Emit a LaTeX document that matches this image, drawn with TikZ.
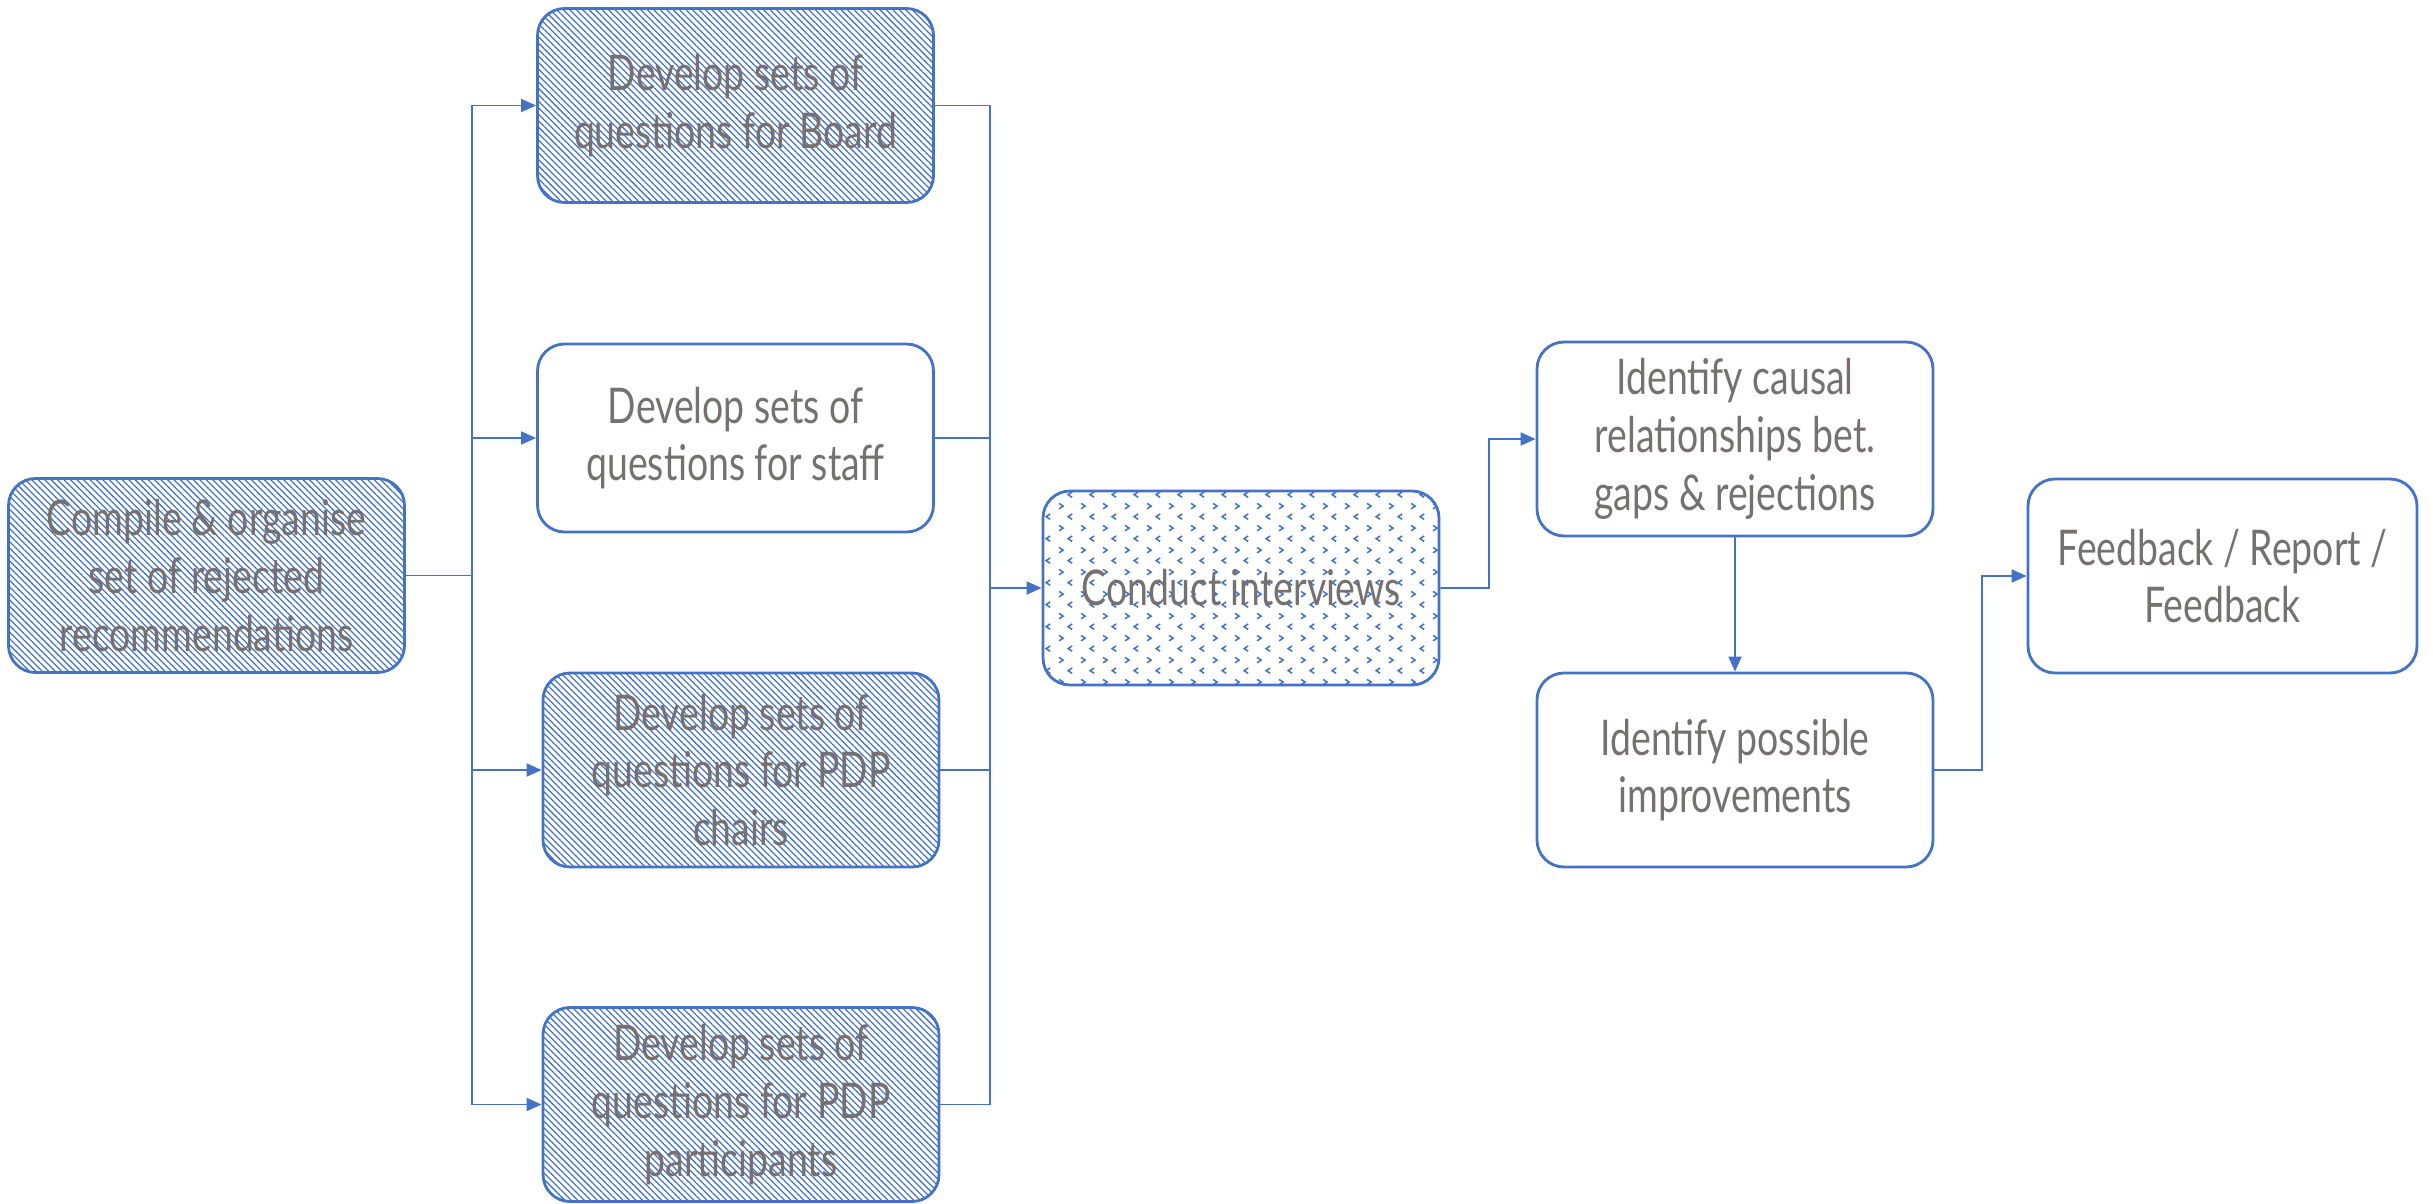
\documentclass[tikz,border=0pt]{standalone}
\usepackage{fontspec}
\setmainfont{Lato}[FakeStretch=0.76]
\usepackage{tikz}
\usetikzlibrary{arrows.meta,positioning,patterns.meta}
\definecolor{boxblue}{HTML}{4472C4}
\definecolor{textgray}{HTML}{767171}
\pgfdeclarepattern{name=divots,type=uncolored,bottom left={\pgfpointorigin},top right={\pgfpoint{6.26pt}{6.26pt}},tile size={\pgfpoint{6.26pt}{6.26pt}},code={
  \pgfsetlinewidth{0.45pt}
  \pgfpathmoveto{\pgfpoint{0.9pt}{5.5pt}}\pgfpathlineto{\pgfpoint{2.1pt}{4.7pt}}\pgfpathlineto{\pgfpoint{0.9pt}{3.9pt}}
  \pgfpathmoveto{\pgfpoint{4.8pt}{2.4pt}}\pgfpathlineto{\pgfpoint{3.6pt}{1.6pt}}\pgfpathlineto{\pgfpoint{4.8pt}{0.8pt}}
  \pgfusepath{stroke}}}
\tikzset{>={Triangle[length=0.15cm,width=0.13cm]},task node/.style={rectangle,rounded corners=0.27cm,draw=boxblue,line width=0.8pt,minimum width=3.96cm,minimum height=1.94cm,inner sep=0pt,align=center,text=textgray,font=\fontsize{14}{16.4}\selectfont},hatch node/.style={task node,pattern={Lines[angle=-45,distance=1.3pt,line width=0.36pt]},pattern color=boxblue},dots node/.style={task node,pattern=divots,pattern color=boxblue},link/.style={draw=boxblue,line width=0.55pt}}

\begin{document}
\begin{tikzpicture}
    \useasboundingbox (0,0) rectangle (24.33,-12.04);
    \node[hatch node] (comp) at (2.065,-5.755) {Compile \& organise\\set of rejected\\recommendations};
    \node[hatch node, on grid] (board) [above right = 4.70cm and 5.29cm of comp] {Develop sets of\\questions for Board};
    \node[task node, on grid, minimum height=1.88cm] (staff) [below = 3.325cm of board] {Develop sets of\\questions for staff};
    \node[hatch node, on grid] (chairs) [below right = 3.32cm and 0.055cm of staff] {Develop sets of\\questions for PDP\\chairs};
    \node[hatch node, on grid] (part) [below = 3.345cm of chairs] {Develop sets of\\questions for PDP\\participants};
    \node[dots node, on grid] (conduct) [below right = 0.125cm and 10.345cm of comp] {Conduct interviews};
    \node[task node, on grid] (causal) [above right = 1.49cm and 4.94cm of conduct] {Identify causal\\relationships bet.\\gaps \& rejections};
    \node[task node, on grid] (possible) [below = 3.31cm of causal] {Identify possible\\improvements};
    \node[task node, on grid, minimum width=3.89cm] (feedback) [below right = 1.37cm and 4.875cm of causal] {Feedback / Report /\\Feedback};
    \coordinate (fanl) at (4.72,-5.755);
    \coordinate (fanr) at (9.90,-5.88);
    \coordinate (bendc) at (14.89,-5.88);
    \coordinate (bendf) at (19.82,-7.70);
    \path[link] (comp) -- (fanl);
    \path[link,->] (fanl) |- (board);
    \path[link,->] (fanl) |- (staff);
    \path[link,->] (fanl) |- (chairs);
    \path[link,->] (fanl) |- (part);
    \path[link] (board) -| (fanr);
    \path[link] (staff) -| (fanr);
    \path[link] (chairs) -| (fanr);
    \path[link] (part) -| (fanr);
    \path[link,->] (fanr) -- (conduct);
    \path[link,->] (conduct) -- (bendc) |- (causal);
    \path[link,->] (causal) -- (possible);
    \path[link,->] (possible) -- (bendf) |- (feedback);
  \end{tikzpicture}
\end{document}
